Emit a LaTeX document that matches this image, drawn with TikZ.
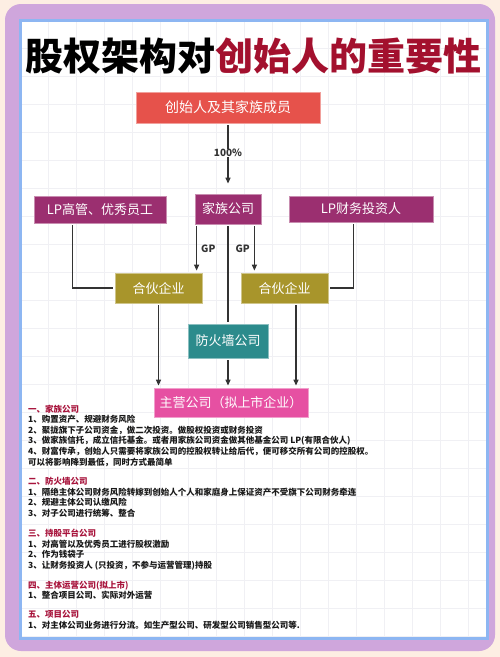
\documentclass[tikz,border=0pt]{standalone}
\usepackage{fontspec}
\setmainfont{Noto Sans CJK SC}
\usetikzlibrary{arrows.meta, positioning, calc}

\definecolor{fond}{HTML}{FDEEE3}
\definecolor{cadre}{HTML}{CFA6DC}
\definecolor{bordbleu}{HTML}{8DB6F2}
\definecolor{grille}{HTML}{F0F0F4}
\definecolor{rougetitre}{HTML}{A3102E}
\definecolor{rouge}{HTML}{E6524B}
\definecolor{violet}{HTML}{9B2F70}
\definecolor{olive}{HTML}{A8952B}
\definecolor{sarcelle}{HTML}{2C8B8C}
\definecolor{rose}{HTML}{E650A2}
\definecolor{fleche}{HTML}{333333}
\definecolor{rubrique}{HTML}{A8143C}

\begin{document}
\begin{tikzpicture}[
    x=1pt, y=-1pt,
    boite/.style={fill=#1, draw=#1!55!white, line width=0.8pt, text=white, inner sep=0pt, font=\fontsize{13}{15}\selectfont},
    etiq/.style={inner sep=0pt, text=fleche, font=\fontsize{10}{12}\selectfont\bfseries},
    texte/.style={anchor=north west, align=left, inner sep=0pt, text=black!90, font=\fontsize{8.5}{10.6}\selectfont\bfseries},
    lien/.style={line width=1.2pt, draw=fleche, shorten <=2pt, shorten >=2pt},
    >={Triangle[length=6pt, width=5pt]}
]
    \useasboundingbox (0,0) rectangle (500,657);

    % Fond et cadre
    \fill[fond] (0,0) rectangle (500,657);
    \fill[cadre, rounded corners=16pt] (5,4) rectangle (495,651);
    \fill[white] (20,20) rectangle (487,638);
    \foreach \gx in {48,76,...,487} \draw[grille, line width=0.6pt] (\gx,20) -- (\gx,638);
    \foreach \gy in {48,76,...,638} \draw[grille, line width=0.6pt] (20,\gy) -- (487,\gy);
    \draw[bordbleu, line width=3pt] (20,20) rectangle (487,638);

    % Titre
    \node[inner sep=0pt, font=\fontsize{38}{40}\selectfont\bfseries] (titre) at (253.5,56) {股权架构对\textcolor{rougetitre}{创始人的重要性}};

    % Noeuds principaux
    \node[boite=rouge, minimum width=184pt, minimum height=31pt, font=\fontsize{14}{16}\selectfont] (fondateur) at (228,107.5) {创始人及其家族成员};
    \node[boite=violet, minimum width=132pt, minimum height=27pt] (lpcadres) at (100,209.5) {LP高管、优秀员工};
    \node[boite=violet, minimum width=66pt, minimum height=30pt] (famille) at (228,209) {家族公司};
    \node[boite=violet, minimum width=144pt, minimum height=26pt] (lpinvest) at (361,209) {LP财务投资人};
    \node[boite=olive, minimum width=87pt, minimum height=30pt] (societeg) at (158.5,288) {合伙企业};
    \node[boite=olive, minimum width=87pt, minimum height=30pt] (societed) at (284.5,288) {合伙企业};
    \node[boite=sarcelle, minimum width=80pt, minimum height=34pt] (parefeu) at (228,341) {防火墙公司};
    \node[boite=rose, minimum width=154pt, minimum height=29pt] (principale) at (231,402.5) {主营公司（拟上市企业）};

    % Points de depart
    \coordinate (gpg) at ([xshift=2pt]famille.south west);
    \coordinate (gpd) at ([xshift=-7pt]famille.south east);
    \coordinate (lpg) at ([xshift=39pt]lpcadres.south west);
    \coordinate (lpd) at ([xshift=65pt]lpinvest.south west);
    \coordinate (sdd) at ([xshift=11.5pt]societed.south);

    % Fleches
    \draw[lien, ->, shorten >=10pt] (fondateur) -- node[pos=0.42, fill=white, inner sep=2pt, etiq] {100\%} (famille);
    \draw[lien, ->] (gpg) -- node[right=4pt, etiq] {GP} (gpg |- societeg.north);
    \draw[lien, ->] (gpd) -- node[left=4pt, etiq] {GP} (gpd |- societed.north);
    \draw[lien] (famille) -- (parefeu);
    \draw[lien] (lpg) |- (societeg.west);
    \draw[lien] (lpd) |- (societed.east);
    \draw[lien, ->] (societeg.south) -- (societeg.south |- principale.north);
    \draw[lien, ->] (parefeu) -- (principale.north -| parefeu.south);
    \draw[lien, ->] (sdd) -- (sdd |- principale.north);

    % Texte explicatif
    \node[texte] (partie1) at (28,404.5) {\textcolor{rubrique}{一、家族公司}\\
        1、购置资产、规避财务风险\\
        2、聚拢旗下子公司资金，做二次投资。做股权投资或财务投资\\
        3、做家族信托，成立信托基金。或者用家族公司资金做其他基金公司 LP(有限合伙人)\\
        4、财富传承，创始人只需要将家族公司的控股权转让给后代，便可移交所有公司的控股权。\\
        可以将影响降到最低，同时方式最简单};
    \node[texte] (partie2) at (28,477) {\textcolor{rubrique}{二、防火墙公司}\\
        1、隔绝主体公司财务风险转嫁到创始人个人和家庭身上保证资产不受旗下公司财务牵连\\
        2、规避主体公司认缴风险\\
        3、对子公司进行统筹、整合};
    \node[texte] (partie3) at (28,529) {\textcolor{rubrique}{三、持股平台公司}\\
        1、对高管以及优秀员工进行股权激励\\
        2、作为钱袋子\\
        3、让财务投资人 (只投资，不参与运营管理)持股};
    \node[texte] (partie4) at (28,580.5) {\textcolor{rubrique}{四、主体运营公司(拟上市)}\\
        1、整合项目公司、实际对外运营};
    \node[texte] (partie5) at (28,610.5) {\textcolor{rubrique}{五、项目公司}\\
        1、对主体公司业务进行分流。如生产型公司、研发型公司销售型公司等.};

\end{tikzpicture}
\end{document}
